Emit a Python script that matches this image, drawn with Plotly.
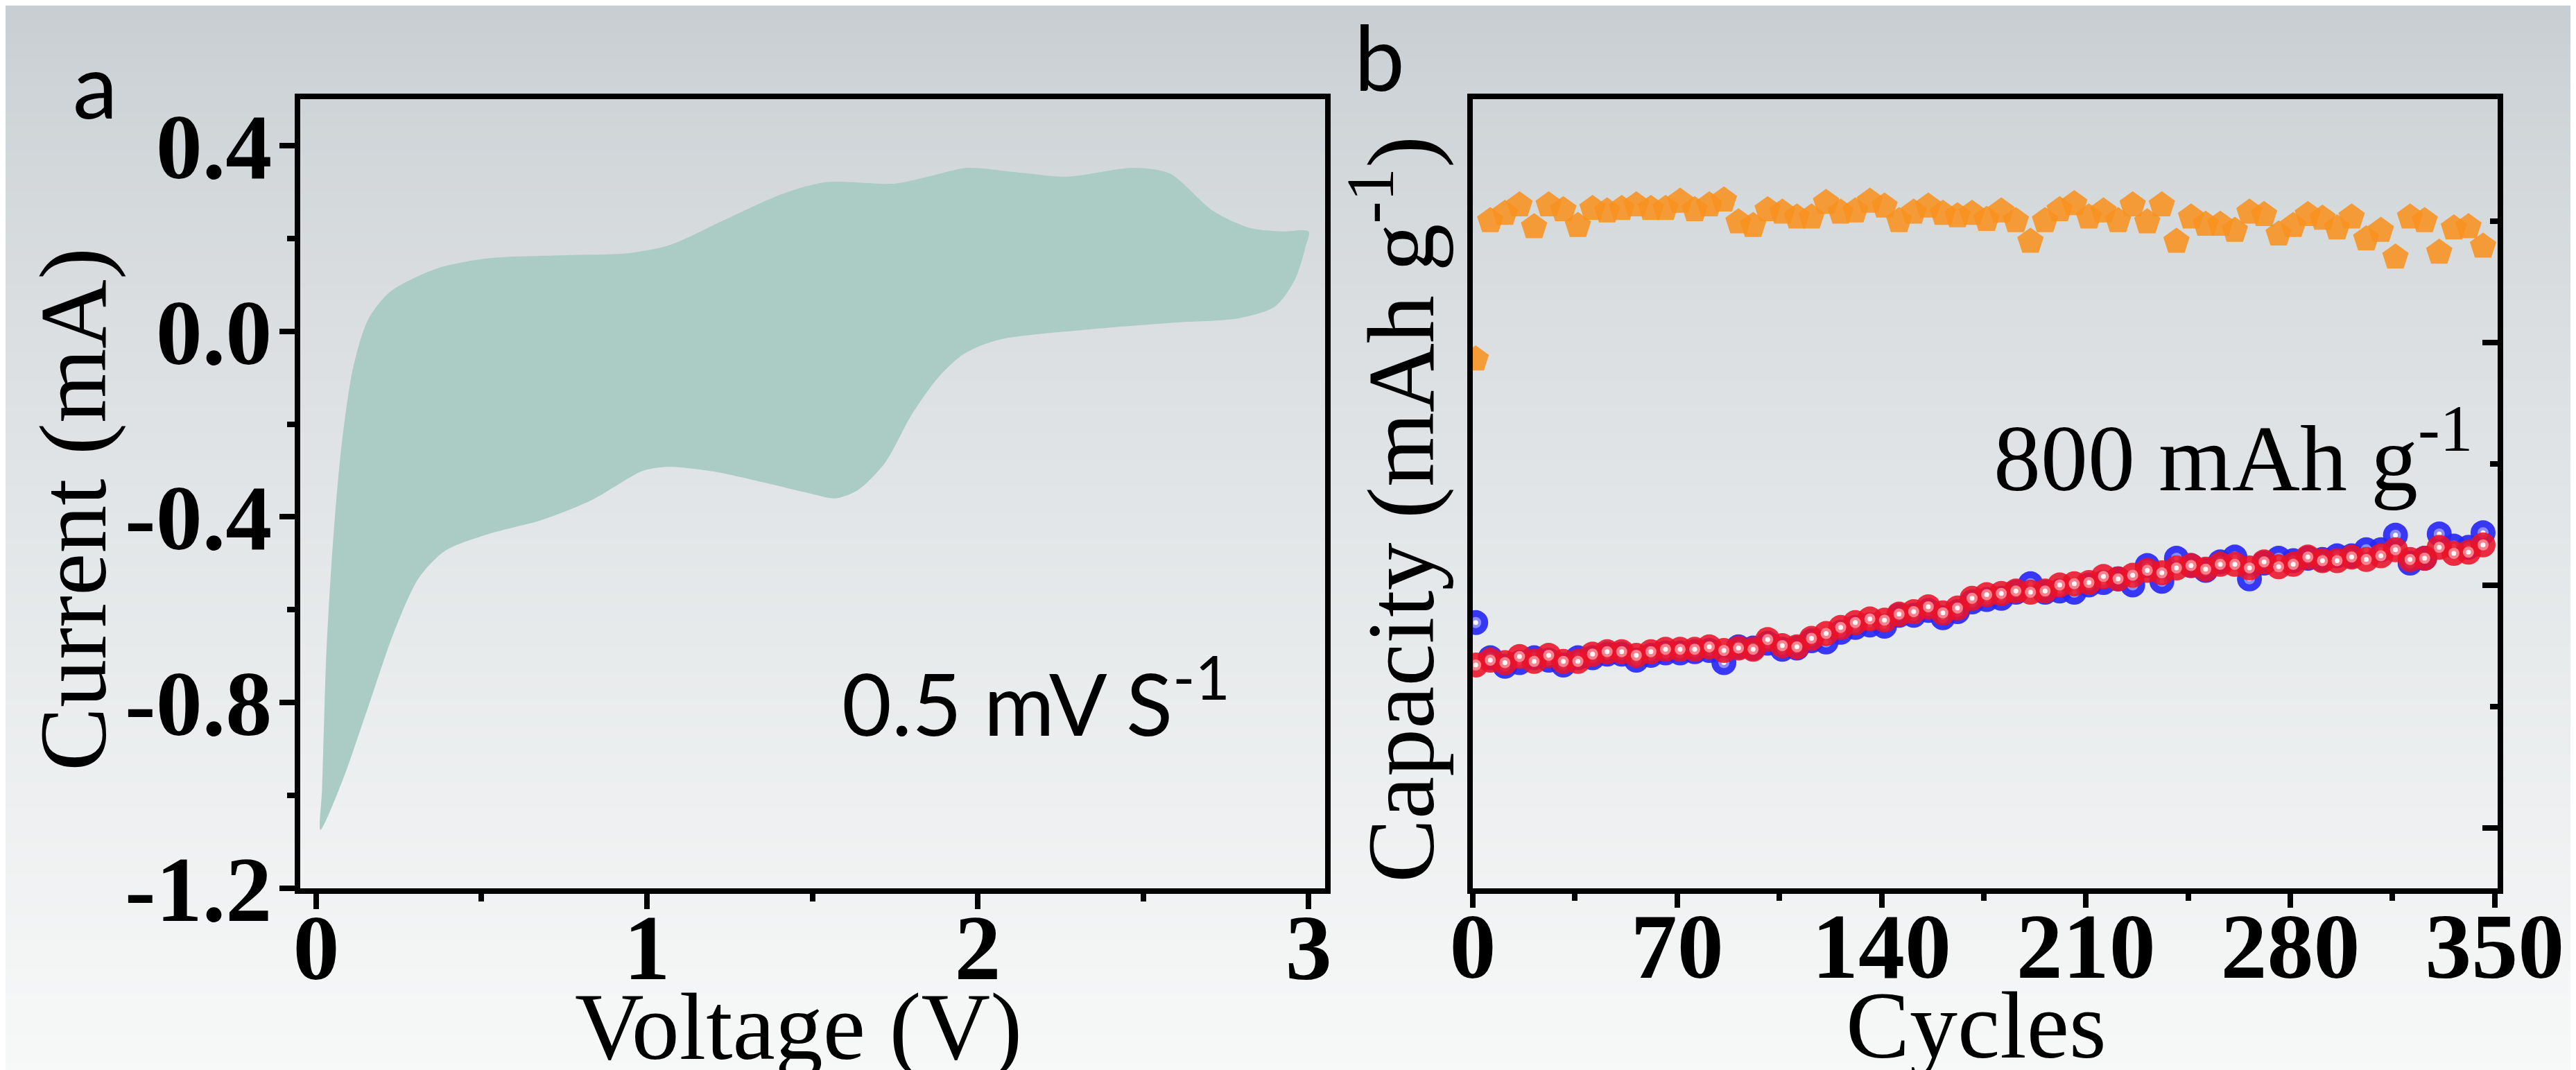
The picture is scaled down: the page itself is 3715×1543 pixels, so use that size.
import plotly.graph_objects as go

# ---------------- data ----------------
# Panel a: cyclic voltammogram (filled loop), anodic (upper) branch 0 -> 3 V
cv_up_v = [0.013, 0.018, 0.031, 0.052, 0.078, 0.112, 0.157, 0.222, 0.365, 0.52, 0.757, 0.94, 1.07,
           1.226, 1.41, 1.54, 1.75, 1.85, 1.97, 2.11, 2.27, 2.47, 2.58, 2.71, 2.82, 2.92, 3.0]
cv_up_i = [-1.074, -0.986, -0.693, -0.444, -0.239, -0.078, 0.025, 0.084, 0.135, 0.157, 0.164, 0.168, 0.186,
           0.237, 0.296, 0.321, 0.318, 0.333, 0.352, 0.343, 0.333, 0.352, 0.34, 0.26, 0.223, 0.215, 0.215]
# cathodic (lower) branch 3 -> 0 V
cv_dn_v = [2.99, 2.96, 2.9, 2.79, 2.58, 2.32, 2.06, 1.96, 1.88, 1.8, 1.72, 1.64, 1.57, 1.49, 1.36,
           1.2, 1.07, 0.99, 0.835, 0.68, 0.52, 0.39, 0.31, 0.235, 0.157, 0.078, 0.013]
cv_dn_i = [0.18, 0.113, 0.054, 0.028, 0.018, 0.003, -0.019, -0.048, -0.1, -0.18, -0.283, -0.341, -0.36,
           -0.349, -0.327, -0.302, -0.292, -0.3, -0.363, -0.407, -0.437, -0.473, -0.532, -0.649, -0.81,
           -0.971, -1.074]

x_ticks_a = [0, 1, 2, 3]
x_ticktext_a = ["0", "1", "2", "3"]
y_ticks_a = [-1.2, -0.8, -0.4, 0.0, 0.4]
y_ticktext_a = ["-1.2", "-0.8", "-0.4", "0.0", "0.4"]

# Panel b: cycling at 800 mAh g-1 (axis values unlabeled in the source)
cycles = [1, 6, 11, 16, 21, 26, 31, 36, 41, 46, 51, 56, 61, 66, 71, 76, 81, 86, 91, 96,
          101, 106, 111, 116, 121, 126, 131, 136, 141, 146, 151, 156, 161, 166, 171, 176, 181, 186, 191, 196,
          201, 206, 211, 216, 221, 226, 231, 236, 241, 246, 251, 256, 261, 266, 271, 276, 281, 286, 291, 296,
          301, 306, 311, 316, 321, 326, 331, 336, 341, 346]
discharge = [184, 188, 186, 191, 187, 192, 187, 187, 193, 195, 195, 192, 195, 197, 197, 197, 199, 196, 198, 197,
             205, 200, 199, 206, 210, 215, 219, 222, 221, 226, 228, 232, 227, 231, 239, 242, 243, 245, 244, 245,
             250, 251, 252, 257, 255, 258, 262, 260, 264, 266, 263, 267, 267, 264, 269, 265, 267, 273, 270, 270,
             273, 271, 274, 279, 271, 272, 281, 276, 277, 283]
charge = [219, 190, 183, 186, 190, 188, 184, 190, 190, 193, 193, 188, 192, 194, 194, 195, 196, 186, 199, 198,
          202, 197, 198, 204, 203, 211, 215, 217, 216, 225, 225, 229, 223, 228, 236, 238, 239, 244, 251, 244,
          245, 244, 250, 252, 255, 250, 266, 253, 272, 266, 262, 269, 273, 255, 268, 272, 270, 272, 271, 274,
          274, 279, 279, 291, 268, 272, 292, 282, 281, 293]
efficiency = [436, 550, 556, 563, 545, 563, 559, 546, 560, 558, 560, 563, 560, 560, 566, 559, 563, 567, 549, 546,
              559, 557, 553, 553, 565, 557, 558, 566, 562, 550, 557, 562, 556, 554, 556, 551, 558, 550, 533, 550,
              559, 564, 553, 558, 550, 563, 549, 563, 533, 553, 547, 547, 542, 557, 555, 539, 546, 555, 552, 544,
              553, 535, 542, 520, 553, 550, 524, 544, 545, 529]

x_ticks_b = [0, 70, 140, 210, 280, 350]
x_ticktext_b = ["0", "70", "140", "210", "280", "350"]
x_minor_b = [35, 105, 175, 245, 315]
y_ticks_b = [50, 250, 450, 650]
y_minor_b = [150, 350, 550]

# ---------------- geometry (pixels of the 3715 x 1543 canvas) ----------------
W, H = 3715, 1543
ML, MR, MT, MB = 425, 121, 135, 270
PW, PH = W - ML - MR, H - MT - MB


def px(x):
    return (x - ML) / PW


def py(y):
    return (H - MB - y) / PH


SERIF = "Liberation Serif"
SANS = "Lato"
BLACK = "#000000"

fig = go.Figure()

# ---- panel a ----
fig.add_trace(go.Scatter(
    x=cv_up_v + cv_dn_v, y=cv_up_i + cv_dn_i,
    mode="lines", fill="toself", fillcolor="#abcbc5",
    line=dict(width=0, color="#abcbc5", shape="spline", smoothing=0.8),
    xaxis="x", yaxis="y", hoverinfo="skip", showlegend=False))

# ---- panel b ----
def balls(yvals, base, mid, name):
    fig.add_trace(go.Scatter(x=cycles, y=yvals, mode="markers", name=name,
                             marker=dict(symbol="circle", size=36, color=base, line=dict(width=0)),
                             xaxis="x2", yaxis="y2", showlegend=False))
    fig.add_trace(go.Scatter(x=cycles, y=yvals, mode="markers", hoverinfo="skip",
                             marker=dict(symbol="circle", size=16, color=mid, line=dict(width=0)),
                             xaxis="x2", yaxis="y2", showlegend=False))
    fig.add_trace(go.Scatter(x=cycles, y=yvals, mode="markers", hoverinfo="skip",
                             marker=dict(symbol="circle", size=7, color="rgba(255,255,255,0.95)", line=dict(width=0)),
                             xaxis="x2", yaxis="y2", showlegend=False))


balls(charge, "rgba(40,40,245,0.92)", "rgba(150,150,255,0.9)", "charge")
balls(discharge, "rgba(235,18,40,0.88)", "rgba(255,140,150,0.9)", "discharge")

fig.add_trace(go.Scatter(x=cycles, y=efficiency, mode="markers", name="efficiency",
                         marker=dict(symbol="pentagon", size=40, color="rgba(248,146,32,0.88)", line=dict(width=0)),
                         xaxis="x2", yaxis="y2", showlegend=False))

# ---- background gradient ----
shapes = []
NB = 80
top_c = (199, 205, 209)
bot_c = (247, 248, 248)
for k in range(NB):
    t = (k + 0.5) / NB
    f = t ** 0.75
    c = tuple(int(round(top_c[j] + (bot_c[j] - top_c[j]) * f)) for j in range(3))
    y0 = H * k / NB
    y1 = H * (k + 1) / NB + 1
    shapes.append(dict(type="rect", xref="paper", yref="paper", layer="below",
                       x0=px(0), x1=px(W), y0=py(y1), y1=py(y0),
                       fillcolor="rgb(%d,%d,%d)" % c, line=dict(width=0)))

tickfont = dict(family=SERIF, size=134, color=BLACK, weight="bold")
LW = 8

common_axis = dict(showline=True, linewidth=LW, linecolor=BLACK, mirror=True,
                   showgrid=False, zeroline=False, tickwidth=LW, tickcolor=BLACK)

fig.update_layout(
    width=W, height=H,
    margin=dict(l=ML, r=MR, t=MT, b=MB, pad=0),
    paper_bgcolor="rgb(247,248,248)", plot_bgcolor="rgba(0,0,0,0)",
    shapes=shapes,
    xaxis=dict(domain=[0, px(1903)], range=[-0.048, 3.05], anchor="y",
               tickmode="array", tickvals=x_ticks_a, ticktext=x_ticktext_a,
               ticks="outside", ticklen=22, tickfont=tickfont, ticklabelstandoff=-60,
               minor=dict(tickmode="array", tickvals=[0.5, 1.5, 2.5], ticks="outside", ticklen=11,
                          tickwidth=LW, tickcolor=BLACK),
               **common_axis),
    yaxis=dict(domain=[0, 1], range=[-1.2, 0.5], anchor="x",
               tickmode="array", tickvals=y_ticks_a, ticktext=y_ticktext_a,
               ticks="outside", ticklen=22, tickfont=tickfont, ticklabelstandoff=-16,
               minor=dict(tickmode="array", tickvals=[-1.0, -0.6, -0.2, 0.2], ticks="outside", ticklen=11,
                          tickwidth=LW, tickcolor=BLACK),
               **common_axis),
    xaxis2=dict(domain=[px(2116), 1], range=[0, 351], anchor="y2",
                tickmode="array", tickvals=x_ticks_b, ticktext=x_ticktext_b,
                ticks="outside", ticklen=20, tickfont=tickfont, ticklabelstandoff=-60,
                minor=dict(tickmode="array", tickvals=x_minor_b, ticks="outside", ticklen=10,
                           tickwidth=LW, tickcolor=BLACK),
                **common_axis),
    yaxis2=dict(domain=[0, 1], range=[0, 650.3], anchor="x2", side="right",
                tickmode="array", tickvals=y_ticks_b, showticklabels=False,
                ticks="inside", ticklen=22,
                minor=dict(tickmode="array", tickvals=y_minor_b, ticks="inside", ticklen=11,
                           tickwidth=LW, tickcolor=BLACK),
                **common_axis),
)

ann = []
title_font = dict(family=SERIF, size=138, color=BLACK)
ann.append(dict(text="Current (mA)", x=px(97), y=py(727), textangle=-90, font=title_font))
ann.append(dict(text="Voltage (V)", x=px(1143), y=py(1472), font=title_font))
ann.append(dict(text="Capacity (mAh g<sup>-1</sup>)", x=px(2002), y=py(727), textangle=-90, font=title_font))
ann.append(dict(text="Cycles", x=px(2842), y=py(1470), font=title_font))
ann.append(dict(text="a", x=px(129), y=py(113), font=dict(family=SANS, size=130, color=BLACK)))
ann.append(dict(text="b", x=px(1981), y=py(72), font=dict(family=SANS, size=130, color=BLACK)))
ann.append(dict(text="0.5 mV S<sup>-1</sup>", x=px(1486), y=py(997),
                font=dict(family=SANS, size=124, color=BLACK)))
ann.append(dict(text="800 mAh g<sup>-1</sup>", x=px(3212), y=py(642),
                font=dict(family=SERIF, size=136, color=BLACK)))
for a in ann:
    a.update(xref="paper", yref="paper", showarrow=False, xanchor="center", yanchor="middle")
fig.update_layout(annotations=ann)

fig.write_html("out.html")
